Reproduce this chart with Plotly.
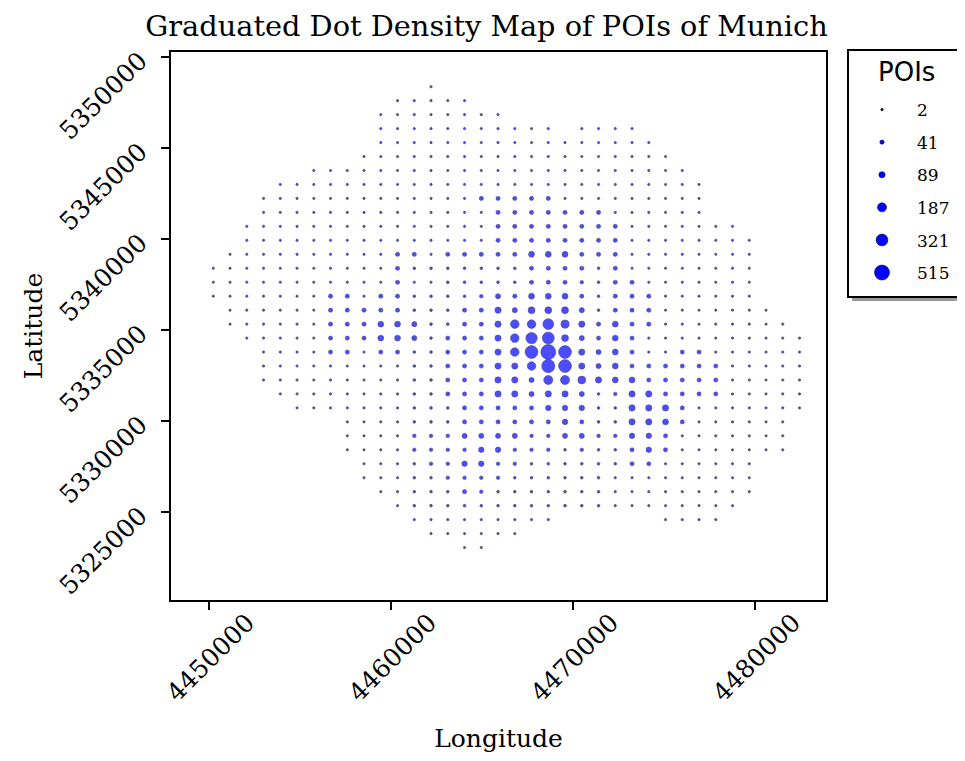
import math
import plotly.graph_objects as go

# ---------------- data ----------------
# grid cell centres (projected metres)
lon_centers = [4450225, 4451145, 4452066, 4452986, 4453906, 4454827, 4455747, 4456667,
               4457588, 4458508, 4459428, 4460348, 4461269, 4462189, 4463109, 4464030,
               4464950, 4465870, 4466790, 4467711, 4468631, 4469551, 4470472, 4471392,
               4472312, 4473233, 4474153, 4475073, 4475993, 4476914, 4477834, 4478754,
               4479675, 4480595, 4481515, 4482436]
lat_centers = [5348383, 5347616, 5346849, 5346081, 5345314, 5344547, 5343779, 5343012,
               5342245, 5341477, 5340710, 5339943, 5339175, 5338408, 5337641, 5336873,
               5336106, 5335339, 5334571, 5333804, 5333037, 5332270, 5331502, 5330735,
               5329968, 5329200, 5328433, 5327666, 5326898, 5326131, 5325364, 5324596,
               5323829, 5323062]

# first occupied column of every row (north to south)
row_first_col = [13, 11, 10, 10, 10, 9, 6, 4, 3, 3, 2, 2, 1, 0, 0, 0, 1,
                 1, 2, 3, 3, 3, 4, 5, 8, 8, 8, 9, 9, 10, 11, 12, 13, 15]

# POI counts per cell, row by row (None = empty cell)
poi_rows = [
    [5],
    [5, 5, 5, 5, 5],
    [5, 5, 5, 5, 5, 5, 5, 5],
    [5, 5, 5, 5, 5, 5, 5, 5, 5, 5, 5, None, 5, 5, 5, 5],
    [5, 5, 5, 5, 5, 5, 5, 5, 5, 5, 5, 5, 5, 5, 5, 5, 5],
    [5, 5, 5, 5, 5, 5, 5, 5, 5, 5, 5, 5, 5, 5, 5, 5, 5, 5, 5],
    [5, 5, 5, 5, 5, 5, 5, 5, 5, 5, 5, 5, 5, 5, 5, 5, 5, 5, 5, 5, 5, 5, 5],
    [5, 5, 5, 5, 5, 5, 5, 5, 5, 5, 5, 5, 5, 5, 5, 5, 5, 5, 5, 5, 5, 5, 5, 5, 5, 5],
    [5, 5, 5, 5, 5, 5, 5, 5, 5, 5, 5, 5, 5, 40, 40, 40, 40, 40, 5, 5, 5, 5, 5, 5, 5, 5, 5],
    [5, 5, 5, 5, 5, 5, 5, 5, 5, 5, 5, 5, 5, 5, 40, 40, 40, 40, 40, 40, 40, 5, 5, 5, 5, 5, 5],
    [5, 5, 5, 5, 5, 5, 5, 5, 5, 5, 5, 5, 5, 5, 5, 40, 40, 40, 40, 40, 40, 40, 40,
     5, 5, 5, 5, 5, 5, 5],
    [5, 5, 5, 5, 5, 5, 5, 5, 5, 5, 5, 5, 5, 5, 5, 40, 40, 40, 40, 40, 40, 40, 40,
     5, 5, 5, 5, 5, 5, 5, 5],
    [5, 5, 5, 5, 5, 5, 5, 5, 5, 5, 40, 40, 5, 40, 40, 40, 40, 40, 80, 80, 80, 40, 40, 40,
     5, 5, 5, 5, 5, 5, 5, 5],
    [5, 5, 5, 5, 5, 5, 5, 5, 5, 5, 5, 40, 15, 15, 15, 15, 15, 15, 15, 40, 40, 40, 40, 15, 40,
     5, 5, 5, 5, 5, 5, 5, 5],
    [5, 5, 5, 5, 5, 5, 5, 5, 5, 5, 5, 40, 5, 5, 15, 15, 15, 15, 15, 40, 40, 40, 30, 15, 40, 40,
     5, 5, 5, 5, 5, 5, 5],
    [5, 5, 5, 5, 5, 5, 5, 40, 40, 5, 40, 40, 15, 15, 15, 15, 30, 60, 40, 80, 80, 80, 40, 15,
     40, 40, 40, 5, 5, 5, 5, 5, 5],
    [5, 5, 5, 5, 5, 5, 40, 40, 40, 40, 40, 15, 15, 15, 40, 40, 90, 60, 110, 110, 110, 60, 15,
     40, 40, 40, 5, 5, 5, 5, 5, 5, 5],
    [5, 5, 5, 5, 5, 5, 40, 40, 40, 80, 80, 60, 15, 15, 40, 40, 90, 170, 170, 270, 150, 90, 40,
     80, 40, 40, 5, 5, 5, 5, 5, 5, 5, 5],
    [5, 5, 5, 5, 5, 40, 40, 40, 80, 80, 60, 15, 40, 40, 40, 90, 170, 300, 330, 110, 60, 40,
     80, 40, 5, 5, 5, 5, 5, 5, 5, 5, 5, 5],
    [5, 5, 5, 5, 40, 40, 5, 40, 40, 15, 15, 40, 40, 40, 90, 170, 380, 515, 380, 90, 60,
     80, 40, 5, 5, 40, 40, 5, 5, 5, 5, 5, 5],
    [5, 5, 5, 5, 5, 5, 5, 5, 5, 15, 15, 40, 40, 40, 90, 90, 170, 400, 380, 90, 60,
     80, 40, 40, 40, 40, 40, 40, 5, 5, 5, 5, 5],
    [5, 5, 5, 5, 5, 5, 5, 5, 5, 15, 15, 40, 40, 40, 90, 90, 60, 190, 190, 140, 90,
     80, 80, 40, 40, 40, 40, 40, 5, 5, 5, 5, 5],
    [5, 5, 5, 5, 5, 5, 5, 5, 15, 15, 40, 40, 40, 90, 90, 60, 90, 90, 60, 15,
     30, 90, 90, 40, 40, 40, 40, 5, 5, 5, 5, 5],
    [5, 5, 5, 5, 5, 5, 5, 15, 15, 15, 40, 40, 40, 40, 40, 70, 70, 70, 15,
     15, 90, 90, 90, 40, 5, 5, 5, 5, 5, 5, 5],
    [5, 5, 5, 5, 15, 15, 15, 40, 40, 40, 40, 40, 40, 70, 40, 15,
     15, 90, 90, 80, 40, 5, 5, 5, 5, 5, 5],
    [5, 5, 5, 5, 30, 30, 30, 60, 60, 60, 60, 30, 30, 60, 60, 30,
     30, 70, 70, 40, 5, 5, 5, 5, 5, 5, 5],
    [5, 5, 5, 5, 30, 30, 30, 30, 70, 70, 30, 30, 30, 15, 30, 15,
     15, 40, 70, 40, 5, 5, 5, 5, 5, 5, 5],
    [5, 5, 5, 15, 30, 30, 70, 70, 30, 30, 15, 15, 15, 15, 15,
     15, 40, 40, 5, 5, 5, 5, 5, 5],
    [5, 5, 5, 15, 15, 30, 30, 30, 30, 15, 15, 15, 15, 15, 15,
     5, 5, 5, 5, 5, 5, 5, 5, 5],
    [5, 5, 15, 15, 15, 40, 30, 15, 15, 15, 15, 15, 15, 15,
     5, 5, 5, 5, 5, 5, 5, 5, 5],
    [5, 15, 15, 15, 15, 15, 15, 15, 15, 15, 15, 15, 15, 5, 5, 5, 5, 5, 5, 5, 5],
    [5, 5, 5, 5, 5, 5, 5, 5, 5, None, None, None, None, None, None, 5, 5, 5, 5],
    [5, 5, 5, 5, 5, 5],
    [5, 5],
]

legend_values = [2, 41, 89, 187, 321, 515]
x_tick_values = [4450000, 4460000, 4470000, 4480000]
y_tick_values = [5325000, 5330000, 5335000, 5340000, 5345000, 5350000]

# ---------------- build points ----------------
xs, ys, vs = [], [], []
for r, (c0, vals) in enumerate(zip(row_first_col, poi_rows)):
    for i, v in enumerate(vals):
        if v is None:
            continue
        xs.append(lon_centers[c0 + i])
        ys.append(lat_centers[r])
        vs.append(v)

MAX_D = 15.0
MIN_D = 2.2
vmax = max(legend_values)


def dot_size(v):
    return max(MIN_D, MAX_D * math.sqrt(v / vmax))


def edge_width(v):
    # small dots read as dark specks, bigger ones as solid blue discs
    return 0.9 if dot_size(v) < 3.5 else 0.55


FILL = "#0000ff"
EDGE = "#000030"
SERIF = "DejaVu Serif"

# ---------------- page geometry ----------------
# the browser page adds an 8px body margin, so the figure is laid out
# with that offset taken into account (screen px -> figure px)
OFF = 8
W, H = 965 - OFF, 761 - OFF
SL, SR, ST, SB = 171, 826, 52, 600          # plot frame on screen
L, R, T, B = SL - OFF, SR - OFF, ST - OFF, SB - OFF


def sx(px):
    """screen x pixel -> paper coordinate"""
    return (px - OFF - L) / (R - L)


def sy(py):
    """screen y pixel -> paper coordinate"""
    return (B - (py - OFF)) / (B - T)


fig = go.Figure()
fig.add_trace(go.Scatter(
    x=xs, y=ys, mode="markers", showlegend=False,
    marker=dict(size=[dot_size(v) for v in vs], color=FILL,
                line=dict(color=EDGE, width=[edge_width(v) for v in vs])),
    customdata=vs, hovertemplate="POIs: %{customdata}<extra></extra>",
))
for v in legend_values:
    fig.add_trace(go.Scatter(
        x=[None], y=[None], mode="markers", name=str(v), legendgroup=str(v),
        marker=dict(size=dot_size(v), color=FILL,
                    line=dict(color=EDGE, width=edge_width(v))),
    ))

axis_common = dict(
    showgrid=False, zeroline=False, showline=True, mirror=True, automargin=False,
    linecolor="black", linewidth=2, ticks="outside", ticklen=8,
    tickwidth=2, tickcolor="black", tickangle=-45, tickformat="d",
    tickfont=dict(family=SERIF, size=25, color="black"),
)

fig.update_layout(
    width=W, height=H,
    margin=dict(l=L, r=W - R, t=T, b=H - B, pad=0, autoexpand=False),
    paper_bgcolor="white", plot_bgcolor="white",
    title=dict(text="Graduated Dot Density Map of POIs of Munich",
               x=0.5, xanchor="center", y=1 - (26 - OFF) / H, yanchor="middle",
               font=dict(family=SERIF, size=28.8, color="black")),
    xaxis=dict(range=[4447901, 4483890], tickvals=x_tick_values,
               ticklabelshift=38, ticklabelstandoff=-12,
               title=dict(text="Longitude", font=dict(family=SERIF, size=25, color="black"),
                          standoff=23),
               **axis_common),
    yaxis=dict(range=[5320181, 5350291], tickvals=y_tick_values,
               ticklabelstandoff=16,
               title=dict(text="Latitude", font=dict(family=SERIF, size=25, color="black"),
                          standoff=4),
               **axis_common),
    legend=dict(
        x=sx(847), xanchor="left", y=sy(92), yanchor="top",
        bgcolor="rgba(0,0,0,0)", borderwidth=0,
        font=dict(family=SERIF, size=17, color="black"),
        tracegroupgap=7.5, itemsizing="trace", itemwidth=60,
    ),
    shapes=[
        dict(type="rect", xref="paper", yref="paper",
             x0=sx(852), x1=sx(965), y0=sy(301), y1=sy(54),
             fillcolor="#9a9a9a", line=dict(width=0), layer="above"),
        dict(type="rect", xref="paper", yref="paper",
             x0=sx(848), x1=sx(962), y0=sy(297), y1=sy(50),
             fillcolor="white", line=dict(color="black", width=2), layer="above"),
    ],
    annotations=[dict(text="POIs", xref="paper", yref="paper", x=sx(906), y=sy(72),
                      xanchor="center", yanchor="middle", showarrow=False,
                      font=dict(family="DejaVu Sans", size=26, color="black"))],
)

fig.write_html("out.html")
